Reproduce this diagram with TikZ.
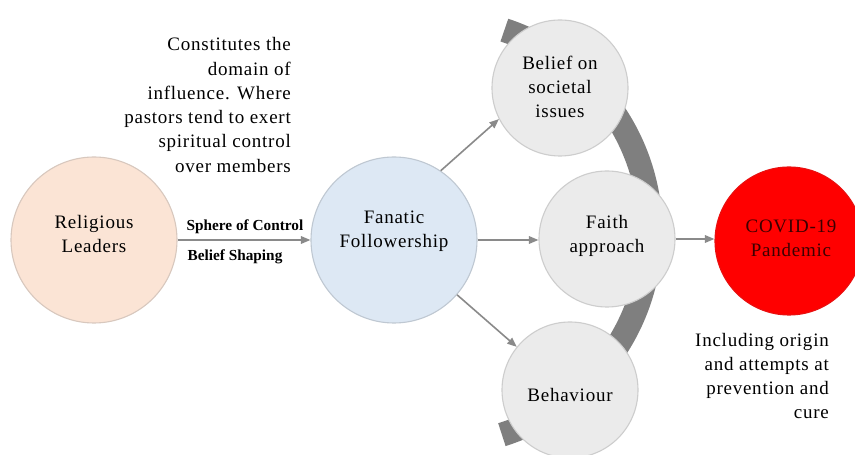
\documentclass[tikz,border=0pt]{standalone}
\usepackage{fontspec}
\setmainfont{Liberation Serif}[LetterSpace=4]
\newfontfamily\lblfont{Liberation Serif}
\usetikzlibrary{arrows.meta}
\definecolor{peach}{HTML}{FBE4D5}
\definecolor{peachline}{HTML}{D8C8BE}
\definecolor{paleblue}{HTML}{DDE8F4}
\definecolor{blueline}{HTML}{BFC8D2}
\definecolor{lightgrey}{HTML}{EBEBEB}
\definecolor{greyline}{HTML}{CDCDCD}
\definecolor{arcgrey}{HTML}{7F7F7F}
\definecolor{arrowgrey}{HTML}{8A8A8A}
\definecolor{covred}{HTML}{FF0000}
\definecolor{covline}{HTML}{E81010}
\definecolor{covtext}{HTML}{3C0000}
\tikzset{
  bubble/.style={circle, inner sep=0pt, line width=1.1pt},
  bubbletext/.style={align=center, inner sep=0pt, font=\fontsize{19}{24}\selectfont},
  bigbubble/.style={bubble, minimum size=166pt},
  smallbubble/.style={bubble, minimum size=136pt, fill=lightgrey, draw=greyline},
  flow/.style={draw=arrowgrey, line width=1.6pt, -{Triangle[length=9.5pt,width=7.5pt]}},
  note/.style={align=right, font=\fontsize{19}{24.3}\selectfont, inner sep=0pt},
  armlabel/.style={font=\lblfont\bfseries\fontsize{15.3}{17}\selectfont, inner sep=0pt}
}
\begin{document}
\begin{tikzpicture}[x=1pt,y=1pt]
\useasboundingbox (0,0) rectangle (855,455);
\fill[white] (0,0) rectangle (855,455);
% background arc
\draw[arcgrey, line width=24pt, line cap=butt] (438,223) ++(71.8:212.5) arc[start angle=71.8, end angle=-72.5, radius=212.5];
% circles
\node[bigbubble, fill=peach, draw=peachline,
  label={[name=relt, bubbletext, yshift=6pt]center:Religious\\Leaders}] (rel) at (94,215) {};
\node[bigbubble, fill=paleblue, draw=blueline,
  label={[name=fant, bubbletext, yshift=9pt]center:Fanatic\\Followership}] (fan) at (394,215) {};
\node[smallbubble,
  label={[name=belt, bubbletext, yshift=1pt]center:Belief on\\societal\\issues}] (bel) at (560,367) {};
\node[smallbubble,
  label={[name=fait, bubbletext, yshift=3pt]center:Faith\\approach}] (fai) at (607,216) {};
\node[smallbubble,
  label={[name=beht, bubbletext, yshift=-5pt]center:Behaviour}] (beh) at (570,65) {};
\node[bubble, minimum size=148pt, fill=covred, draw=covline,
  label={[name=covt, bubbletext, text=covtext, yshift=3pt, xshift=2pt]center:COVID-19\\Pandemic}] (cov) at (789,214) {};
% notes
\node[note, anchor=east] (dom) at (291,350) {Constitutes the\\domain of\\influence. Where\\pastors tend to exert\\spiritual control\\over members};
\node[note, anchor=east] (inc) at (829,79) {Including origin\\and attempts at\\prevention and\\cure};
% connectors
\draw[flow] (rel.east) -- node[armlabel, above=5pt, xshift=1pt] (sph) {Sphere of Control}
  node[armlabel, below=9pt, xshift=-9pt] (bsh) {Belief Shaping} (fan.west);
\draw[flow] (fan.56) -- (bel.207);
\draw[flow] (fan.east) -- (fai.west |- fan.east);
\draw[flow] (fan.-41) -- (beh.141);
\draw[flow] (fai.east) -- (cov.west |- fai.east);
\end{tikzpicture}
\end{document}
